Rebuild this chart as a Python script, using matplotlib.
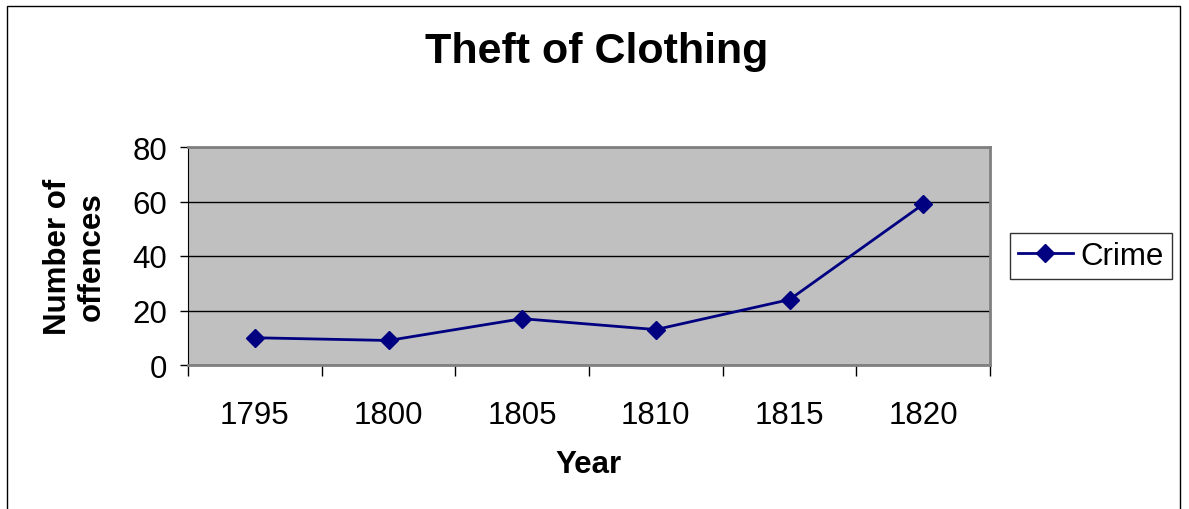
import matplotlib
matplotlib.use('Agg')
import matplotlib.pyplot as plt
from matplotlib.patches import Rectangle

years = ['1795', '1800', '1805', '1810', '1815', '1820']
crime = [10, 9, 17, 13, 24, 59]

plt.rcParams['font.family'] = ['Liberation Sans', 'DejaVu Sans']

fig = plt.figure(figsize=(11.89, 5.10), dpi=100)
fig.patch.set_facecolor('white')

# outer chart frame
fig.patches.append(Rectangle((7 / 1189, -0.05), (1180 - 7) / 1189, 1 - 7 / 510 + 0.05,
                             transform=fig.transFigure, fill=False,
                             edgecolor='black', linewidth=1.0))

ax = fig.add_axes([188 / 1189, 1 - 366 / 510, (990 - 188) / 1189, (366 - 148) / 510])
ax.set_facecolor('#C0C0C0')

x = list(range(len(years)))
ax.plot(x, crime, color='#000080', linewidth=2, marker='D', markersize=9,
        markerfacecolor='#000080', markeredgecolor='#000080', label='Crime')

ax.set_xlim(-0.5, len(years) - 0.5)
ax.set_ylim(0, 80)
ax.set_yticks([0, 20, 40, 60, 80])
ax.yaxis.grid(True, color='black', linewidth=1)
ax.set_axisbelow(True)

ax.set_xticks(x)
ax.set_xticklabels(years)
ax.set_xticks([i - 0.5 for i in range(len(years) + 1)], minor=True)
ax.tick_params(axis='x', which='major', length=0, pad=25, labelsize=22.5)
ax.tick_params(axis='x', which='minor', length=8, width=1, color='black')
ax.tick_params(axis='y', length=6, width=1, pad=9, labelsize=22.5)

for side in ['top', 'right']:
    ax.spines[side].set_color('#808080')
    ax.spines[side].set_linewidth(2)
ax.spines['left'].set_color('black')
ax.spines['bottom'].set_color('#808080')
ax.spines['bottom'].set_linewidth(2)

fig.text(597 / 1189, 1 - 52 / 510, 'Theft of Clothing', ha='center', va='center',
         fontsize=31, fontweight='bold')
fig.text(588 / 1189, 1 - 465 / 510, 'Year', ha='center', va='center',
         fontsize=22.5, fontweight='bold')
fig.text(75 / 1189, 1 - 257 / 510, 'Number of\noffences', ha='center', va='center',
         rotation=90, fontsize=22.5, fontweight='bold', linespacing=1.15)

leg = ax.legend(loc='center left', bbox_to_anchor=(1010 / 1189, 1 - 257 / 510),
                bbox_transform=fig.transFigure, fontsize=22.5, frameon=True,
                fancybox=False, handlelength=1.75, borderpad=0.25, handletextpad=0.25,
                borderaxespad=0)
leg.get_frame().set_edgecolor('black')
leg.get_frame().set_linewidth(1)

fig.savefig('out.png', dpi=100)
